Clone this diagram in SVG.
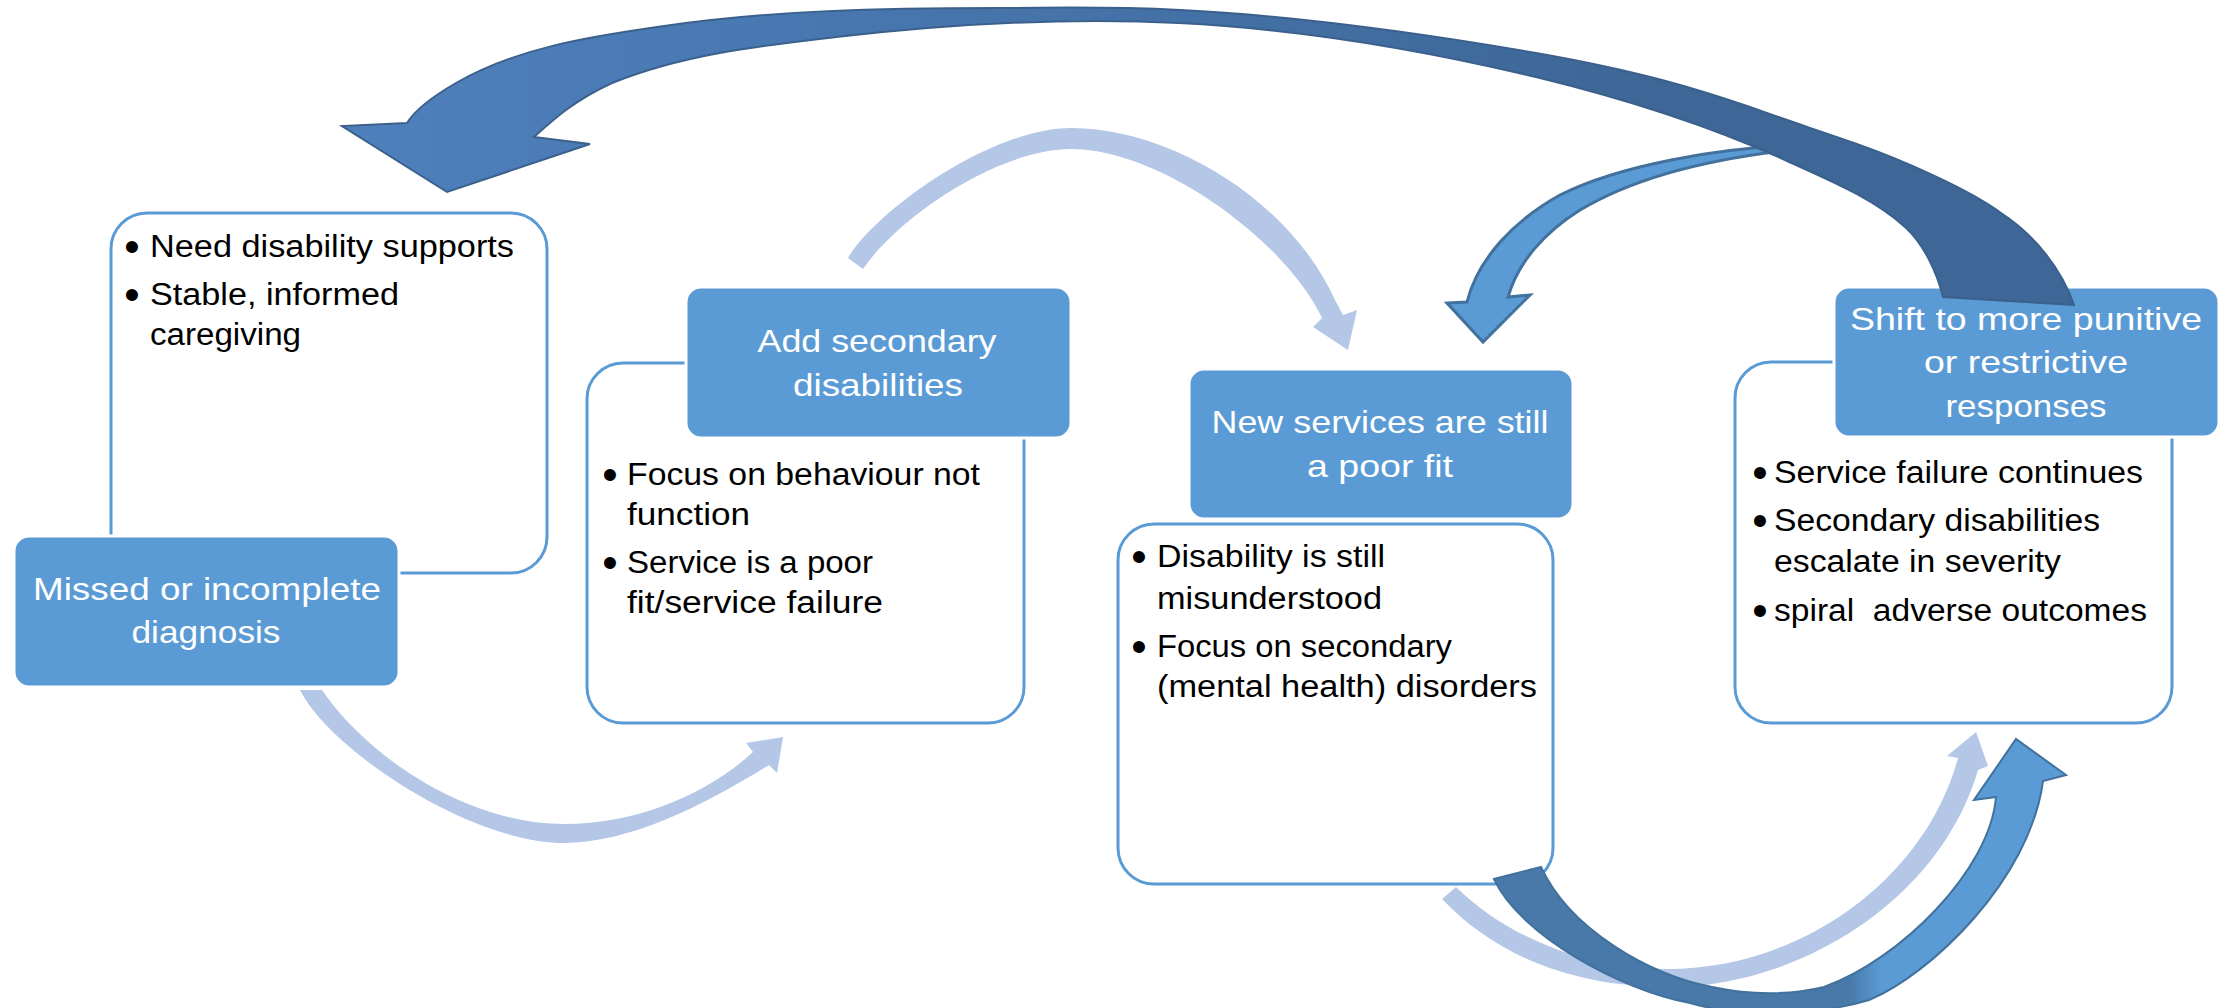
<svg xmlns="http://www.w3.org/2000/svg" width="2236" height="1008" viewBox="0 0 2236 1008">
<defs>
<linearGradient id="gTop" gradientUnits="userSpaceOnUse" x1="340" y1="0" x2="2075" y2="0">
<stop offset="0" stop-color="#4e80bd"/>
<stop offset="0.45" stop-color="#4472a8"/>
<stop offset="0.75" stop-color="#3e6797"/>
<stop offset="1" stop-color="#3e6797"/>
</linearGradient>
<linearGradient id="gBot" gradientUnits="userSpaceOnUse" x1="1494" y1="0" x2="2066" y2="0">
<stop offset="0" stop-color="#4879a9"/>
<stop offset="0.62" stop-color="#4879a9"/>
<stop offset="0.68" stop-color="#5b9bd5"/>
<stop offset="1" stop-color="#5b9bd5"/>
</linearGradient>
<style>
.wbox{fill:#fff;stroke:#5b9bd5;stroke-width:3}
.bbox{fill:#5b9bd5;stroke:#fff;stroke-width:3}
.t{font-family:"Liberation Sans",Arial,sans-serif;font-size:31px;fill:#000}
.b{font-family:"Liberation Sans",Arial,sans-serif;font-size:44px;fill:#000;text-anchor:middle}
.w{font-family:"Liberation Sans",Arial,sans-serif;font-size:32px;fill:#fff;text-anchor:middle}
.light{fill:#b4c7e7}
</style>
</defs>
<rect width="2236" height="1008" fill="#fff"/>

<g id="node-a">
<rect class="wbox" x="111" y="213" width="436" height="360" rx="36"/>
<text class="b" x="132" y="262">•</text>
<text class="t" x="150" y="257" textLength="364" lengthAdjust="spacingAndGlyphs">Need disability supports</text>
<text class="b" x="132" y="310">•</text>
<text class="t" x="150" y="305" textLength="249" lengthAdjust="spacingAndGlyphs">Stable, informed</text>
<text class="t" x="150" y="345" textLength="151" lengthAdjust="spacingAndGlyphs">caregiving</text>
</g>
<g id="node-missed">
<rect class="bbox" x="14" y="536" width="385" height="151" rx="15"/>
<text class="w" x="207" y="600" textLength="348" lengthAdjust="spacingAndGlyphs">Missed or incomplete</text>
<text class="w" x="206" y="643" textLength="149" lengthAdjust="spacingAndGlyphs">diagnosis</text>
</g>

<g id="node-b">
<rect class="wbox" x="587" y="363" width="437" height="360" rx="36"/>
<text class="b" x="610" y="490">•</text>
<text class="t" x="627" y="485" textLength="353" lengthAdjust="spacingAndGlyphs">Focus on behaviour not</text>
<text class="t" x="627" y="525" textLength="123" lengthAdjust="spacingAndGlyphs">function</text>
<text class="b" x="610" y="578">•</text>
<text class="t" x="627" y="573" textLength="246" lengthAdjust="spacingAndGlyphs">Service is a poor</text>
<text class="t" x="627" y="613" textLength="256" lengthAdjust="spacingAndGlyphs">fit/service failure</text>
</g>
<g id="node-add">
<rect class="bbox" x="686" y="287" width="385" height="151" rx="15"/>
<text class="w" x="877" y="352" textLength="239" lengthAdjust="spacingAndGlyphs">Add secondary</text>
<text class="w" x="878" y="396" textLength="170" lengthAdjust="spacingAndGlyphs">disabilities</text>
</g>

<g id="node-c">
<rect class="wbox" x="1118" y="524" width="435" height="360" rx="36"/>
<text class="b" x="1139" y="572">•</text>
<text class="t" x="1157" y="567" textLength="228" lengthAdjust="spacingAndGlyphs">Disability is still</text>
<text class="t" x="1157" y="609" textLength="225" lengthAdjust="spacingAndGlyphs">misunderstood</text>
<text class="b" x="1139" y="662">•</text>
<text class="t" x="1157" y="657" textLength="295" lengthAdjust="spacingAndGlyphs">Focus on secondary</text>
<text class="t" x="1157" y="697" textLength="380" lengthAdjust="spacingAndGlyphs">(mental health) disorders</text>
</g>
<g id="node-new">
<rect class="bbox" x="1189" y="369" width="384" height="150" rx="15"/>
<text class="w" x="1380" y="433" textLength="337" lengthAdjust="spacingAndGlyphs">New services are still</text>
<text class="w" x="1380" y="477" textLength="146" lengthAdjust="spacingAndGlyphs">a poor fit</text>
</g>

<g id="node-d">
<rect class="wbox" x="1735" y="362" width="437" height="361" rx="36"/>
<text class="b" x="1760" y="488">•</text>
<text class="t" x="1774" y="483" textLength="369" lengthAdjust="spacingAndGlyphs">Service failure continues</text>
<text class="b" x="1760" y="536">•</text>
<text class="t" x="1774" y="531" textLength="326" lengthAdjust="spacingAndGlyphs">Secondary disabilities</text>
<text class="t" x="1774" y="572" textLength="287" lengthAdjust="spacingAndGlyphs">escalate in severity</text>
<text class="b" x="1760" y="626">•</text>
<text class="t" x="1774" y="621" textLength="373" lengthAdjust="spacingAndGlyphs" xml:space="preserve">spiral  adverse outcomes</text>
</g>
<g id="node-shift">
<rect class="bbox" x="1834" y="287" width="385" height="150" rx="15"/>
<text class="w" x="2026" y="330" textLength="352" lengthAdjust="spacingAndGlyphs">Shift to more punitive</text>
<text class="w" x="2026" y="373" textLength="204" lengthAdjust="spacingAndGlyphs">or restrictive</text>
<text class="w" x="2026" y="417" textLength="161" lengthAdjust="spacingAndGlyphs">responses</text>
</g>

<g id="connectors">
<path class="light" d="M300,690 C330,750 470,843 564,843 C630,843 705,805 769,765 L777,773 L783,737 L746,743 L753,752 C710,792 640,824 564,824 C470,824 370,760 322,690 Z"/>
<path class="light" d="M848,258 C875,212 990,128 1071,128 C1170,128 1290,200 1335,300 L1343,315 L1357,310 L1348,350 L1313,327 L1322,318 C1285,240 1160,149 1071,149 C1000,149 900,215 863,269 Z"/>
<path class="light" d="M1442,899 C1500,960 1580,987 1668,987 C1800,987 1940,900 1978,770 L1988,766 L1976,732 L1947,756 L1958,758 C1925,880 1800,969 1668,969 C1590,969 1510,940 1456,887 Z"/>
<path d="M1790,146 C1720,148 1620,165 1560,195 C1515,220 1478,258 1467,302 L1447,303 L1483,342 L1530,295 L1508,297 C1518,262 1545,232 1580,210 C1630,180 1700,160 1790,150 Z" fill="#5b9bd5" stroke="#41719c" stroke-width="3" stroke-linejoin="miter"/>
<path d="M2074,305 C2062,270 2035,235 2001,213 C1970,190 1905,161 1854,143 C1820,131 1780,118 1750,107 C1700,90 1644,72 1536,53 C1420,33 1300,16 1180,10 C1100,6 1050,8 1000,8 C885,8 771,10 657,27 C588,37 517,48 456,83 C430,98 415,110 407,123 L342,126 L447,192 L590,144 L534,137 C555,118 575,100 612,83 C684,54 759,46 836,37 C950,24 1064,17 1179,23 C1299,29 1419,49 1536,77 C1618,97 1708,125 1785,160 C1826,179 1872,197 1905,227 C1924,244 1937,273 1943,297 Z" fill="url(#gTop)" stroke="#3b608c" stroke-width="2"/>
<path d="M1494,879 C1520,935 1620,990 1690,1003 C1740,1018 1820,1015 1869,1000 C1930,975 2030,880 2043,781 L2066,775 L2016,739 L1974,800 L1996,797 C1990,870 1900,960 1824,987 C1790,995 1750,995 1712,987 C1650,975 1570,930 1541,867 Z" fill="url(#gBot)" stroke="#41719c" stroke-width="2"/>
</g>
</svg>
